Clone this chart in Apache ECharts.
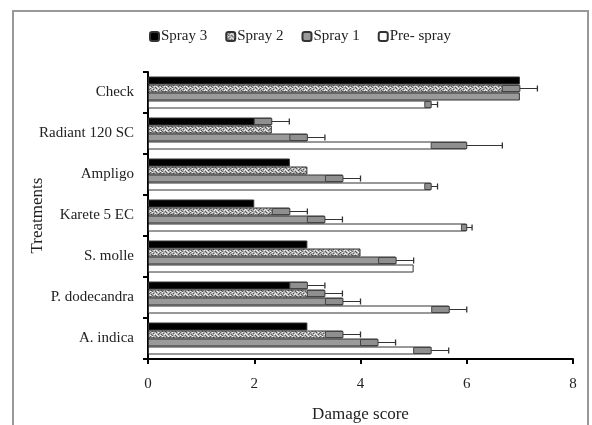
<!DOCTYPE html>
<html><head><meta charset="utf-8">
<script src="https://cdn.jsdelivr.net/npm/echarts@6/dist/echarts.min.js"></script>
<style>html,body{margin:0;padding:0;background:#fff}#c{width:592px;height:425px}</style>
</head><body><div id="c"></div>
<script>
const categories = ['Check','Radiant 120 SC','Ampligo','Karete 5 EC','S. molle','P. dodecandra','A. indica'];
const seriesNames = ['Spray 3','Spray 2','Spray 1','Pre- spray'];
const spray3 = [7.0, 2.33, 2.67, 2.0, 3.0, 3.0, 3.0];
const spray2 = [7.0, 2.33, 3.0, 2.67, 4.0, 3.33, 3.67];
const spray1 = [7.0, 3.0, 3.67, 3.33, 4.67, 3.67, 4.33];
const preSpray = [5.33, 6.0, 5.33, 6.0, 5.0, 5.67, 5.33];
const spray3Err = [0, 0.33, 0, 0, 0, 0.33, 0];
const spray2Err = [0.33, 0, 0, 0.33, 0, 0.33, 0.33];
const spray1Err = [0, 0.33, 0.33, 0.33, 0.33, 0.33, 0.33];
const preSprayErr = [0.12, 0.67, 0.12, 0.1, 0, 0.33, 0.33];
const xTicks = [0, 2, 4, 6, 8];

const values = [spray3, spray2, spray1, preSpray];
const errs = [spray3Err, spray2Err, spray1Err, preSprayErr];

// mottled pattern for Spray 2
const pc = document.createElement('canvas');
pc.width = 10; pc.height = 4;
const g = pc.getContext('2d');
g.fillStyle = '#b0b0b0'; g.fillRect(0,0,10,4);
g.fillStyle = '#5a5a5a';
[[0,0],[3,1],[6,0],[1,2],[5,3],[8,2],[9,1],[2,3]].forEach(p=>g.fillRect(p[0],p[1],1,1));
g.fillStyle = '#f2f2f2';
[[2,0],[5,1],[0,3],[4,2],[7,3],[8,0],[6,2]].forEach(p=>g.fillRect(p[0],p[1],1,1));

const fills = ['#000000', {image: pc, repeat: 'repeat'}, '#9a9a9a', '#ffffff'];
const BW = 8;
const FONT = 'Liberation Serif';

const series = [];
seriesNames.forEach((n, si) => {
  series.push({
    name: n, type: 'bar', data: values[si], barWidth: BW, barGap: '0%',
    itemStyle: {color: fills[si], borderColor: '#333', borderWidth: 1},
    emphasis: {disabled: true}
  });
});
seriesNames.forEach((n, si) => {
  series.push({
    type: 'custom', z: 5, silent: true,
    data: categories.map((c, i) => [values[si][i], i, errs[si][i]]),
    encode: {x: 0, y: 1},
    renderItem(params, api) {
      const v = api.value(0), idx = api.value(1), e = api.value(2);
      if (!e) return;
      const c = api.coord([v, idx]);
      const y = c[1] + (-2 * BW + si * BW + BW / 2);
      const x0 = api.coord([v - e, idx])[0], x1 = api.coord([v + e, idx])[0];
      return {type: 'group', children: [
        {type: 'rect', shape: {x: x0, y: y - 3, width: c[0] - x0, height: 6}, style: {fill: '#8f8f8f', stroke: '#444', lineWidth: 1}},
        {type: 'line', shape: {x1: c[0], y1: y, x2: x1, y2: y}, style: {stroke: '#333', lineWidth: 1}},
        {type: 'line', shape: {x1: x1, y1: y - 3, x2: x1, y2: y + 3}, style: {stroke: '#333', lineWidth: 1.3}}
      ]};
    }
  });
});

const chart = echarts.init(document.getElementById('c'));
chart.setOption({
  animation: false,
  backgroundColor: '#fff',
  textStyle: {fontFamily: FONT},
  graphic: [{type: 'rect', shape: {x: 13, y: 11, width: 575, height: 430}, style: {fill: 'none', stroke: '#999', lineWidth: 2}, z: 100}],
  legend: {
    data: seriesNames, top: 24, left: 144, itemWidth: 9, itemHeight: 9, itemGap: 18,
    textStyle: {fontFamily: FONT, fontSize: 15, color: '#222', padding: [0,0,0,-3]}
  },
  grid: {left: 148, right: 19, top: 72, bottom: 66, outerBoundsMode: 'none'},
  xAxis: {
    type: 'value', min: xTicks[0], max: xTicks[xTicks.length - 1], interval: 2,
    axisLine: {show: true, lineStyle: {color: '#000', width: 2}},
    axisTick: {show: true, length: 5, lineStyle: {color: '#000', width: 2}},
    splitLine: {show: false},
    axisLabel: {fontFamily: FONT, fontSize: 15, color: '#222', margin: 18},
    name: 'Damage score', nameLocation: 'middle', nameGap: 47, nameMoveOverlap: false,
    nameTextStyle: {fontFamily: FONT, fontSize: 17, color: '#222'}
  },
  yAxis: {
    type: 'category', data: categories, inverse: true,
    axisLine: {show: true, lineStyle: {color: '#000', width: 2}},
    axisTick: {show: true, length: 5, lineStyle: {color: '#000', width: 2}},
    axisLabel: {fontFamily: FONT, fontSize: 15, color: '#222', margin: 14},
    name: 'Treatments', nameLocation: 'middle', nameGap: 102, nameRotate: 90, nameMoveOverlap: false,
    nameTextStyle: {fontFamily: FONT, fontSize: 17, color: '#222'}
  },
  series: series
});
</script></body></html>
